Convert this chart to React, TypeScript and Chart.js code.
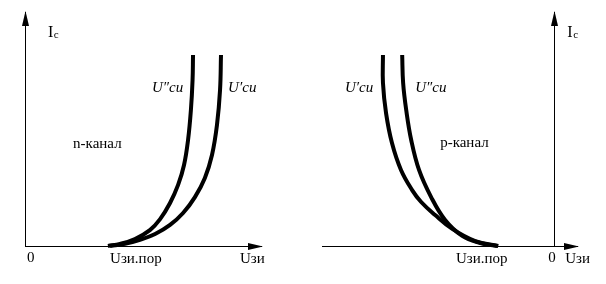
import React, { useEffect, useRef } from "react";
import { Chart, registerables } from "chart.js";

Chart.register(...registerables);

// ---- n-channel (left panel): U_ЗИ (x) vs I_С (y), arbitrary units ----
const nCurve2X = [3.5, 4.01, 4.64, 5.27, 5.7, 6.12, 6.46, 6.71, 6.88, 7.0, 7.07, 7.09];
const nCurve2Y = [0, 0.09, 0.3, 0.68, 1.15, 1.84, 2.61, 3.46, 4.53, 5.81, 7.09, 8.16];
const nCurve1X = [3.59, 4.22, 4.85, 5.49, 6.12, 6.67, 7.17, 7.59, 7.89, 8.1, 8.23, 8.27];
const nCurve1Y = [0, 0.09, 0.26, 0.51, 0.9, 1.41, 2.09, 2.91, 3.89, 5.17, 6.67, 8.16];

// ---- p-channel (right panel) ----
const pCurve1X = [-7.22, -7.22, -7.09, -6.84, -6.46, -5.99, -5.61, -5.02, -4.3, -3.33, -2.36];
const pCurve1Y = [8.16, 6.97, 5.68, 4.4, 3.25, 2.39, 1.88, 1.32, 0.73, 0.21, 0];
const pCurve2X = [-6.41, -6.37, -6.24, -6.03, -5.7, -5.19, -4.6, -3.88, -3.12, -2.41];
const pCurve2Y = [8.16, 6.97, 5.81, 4.53, 3.25, 2.09, 1.11, 0.43, 0.13, 0];

// axis ranges
const nXRange = [0, 10];
const pXRange = [-10, 1];
const yRange = [0, 10];
const nXAxisSpan = [0, 10];
const pXAxisSpan = [-9.79, 1];

// text labels
const nLabels = [
  { text: "I", sub: "с", x: 0.97, y: 8.93 },
  { text: "0", x: 0.08, y: -0.68 },
  { text: "Uзи.пор", x: 3.59, y: -0.73 },
  { text: "Uзи", x: 9.07, y: -0.73 },
  { text: "n-канал", x: 2.03, y: 4.19 },
  { text: "U″си", x: 5.36, y: 6.58, italic: true },
  { text: "U′си", x: 8.57, y: 6.58, italic: true },
];
const pLabels = [
  { text: "I", sub: "с", x: 0.55, y: 8.93 },
  { text: "0", x: -0.25, y: -0.68 },
  { text: "Uзи", x: 0.46, y: -0.73 },
  { text: "Uзи.пор", x: -4.14, y: -0.73 },
  { text: "U′си", x: -8.82, y: 6.58, italic: true },
  { text: "U″си", x: -5.86, y: 6.58, italic: true },
  { text: "p-канал", x: -4.81, y: 4.23 },
];

const FONT = '"Liberation Serif", "Times New Roman", serif';

type Label = { text: string; sub?: string; x: number; y: number; italic?: boolean };

function zip(xs: number[], ys: number[]) {
  return xs.map((x, i) => ({ x, y: ys[i] }));
}

function decorPlugin(axisSpan: number[], labels: Label[]) {
  return {
    id: "decor",
    afterDatasetsDraw(chart: any) {
      const { ctx } = chart;
      const xs = chart.scales.x;
      const ys = chart.scales.y;
      ctx.save();
      ctx.fillStyle = "#000";
      const oy = Math.round(ys.getPixelForValue(0));
      const ox = Math.round(xs.getPixelForValue(0));
      const xa = Math.round(xs.getPixelForValue(axisSpan[0]));
      const xb = Math.round(xs.getPixelForValue(axisSpan[1]));
      const yt = Math.round(ys.getPixelForValue(yRange[1]));
      // axis lines
      ctx.fillRect(xa, oy, xb - xa, 1);
      ctx.fillRect(ox, yt, 1, oy - yt + 1);
      // arrowheads
      ctx.beginPath();
      ctx.moveTo(xb + 1, oy + 0.5);
      ctx.lineTo(xb - 14, oy + 0.5 - 3.5);
      ctx.lineTo(xb - 14, oy + 0.5 + 3.5);
      ctx.closePath();
      ctx.fill();
      ctx.beginPath();
      ctx.moveTo(ox + 0.5, yt - 1);
      ctx.lineTo(ox + 0.5 - 3.5, yt + 14);
      ctx.lineTo(ox + 0.5 + 3.5, yt + 14);
      ctx.closePath();
      ctx.fill();
      // labels
      ctx.textBaseline = "alphabetic";
      ctx.textAlign = "left";
      for (const l of labels) {
        const px = xs.getPixelForValue(l.x);
        const py = ys.getPixelForValue(l.y);
        ctx.font = (l.italic ? "italic " : "") + (l.sub ? "16px " : "15px ") + FONT;
        ctx.fillText(l.text, px, py);
        if (l.sub) {
          const w = ctx.measureText(l.text).width;
          ctx.font = "11px " + FONT;
          ctx.fillText(l.sub, px + w + 0.5, py + 0.5);
        }
      }
      ctx.restore();
    },
  };
}

function Panel(props: {
  series: { x: number[]; y: number[] }[];
  xRange: number[];
  axisSpan: number[];
  labels: Label[];
  padding: { left: number; right: number; top: number; bottom: number };
}) {
  const ref = useRef<HTMLCanvasElement | null>(null);
  useEffect(() => {
    if (!ref.current) return;
    const chart = new Chart(ref.current, {
      type: "line",
      data: {
        datasets: props.series.map((s) => ({
          data: zip(s.x, s.y),
          borderColor: "#000",
          borderWidth: 4,
          pointRadius: 0,
          tension: 0.4,
          fill: false,
          clip: false as any,
        })),
      },
      options: {
        animation: false,
        responsive: false,
        events: [],
        layout: { padding: props.padding },
        plugins: { legend: { display: false }, tooltip: { enabled: false } },
        scales: {
          x: { type: "linear", min: props.xRange[0], max: props.xRange[1], display: false },
          y: { type: "linear", min: yRange[0], max: yRange[1], display: false },
        },
      },
      plugins: [decorPlugin(props.axisSpan, props.labels)],
    } as any);
    return () => chart.destroy();
  }, []);
  return <canvas ref={ref} width={303} height={284} style={{ display: "block" }} />;
}

export default function App() {
  return (
    <div
      style={{
        position: "absolute",
        left: 0,
        top: 0,
        width: 606,
        height: 284,
        background: "#fff",
        display: "flex",
      }}
    >
      <Panel
        series={[
          { x: nCurve2X, y: nCurve2Y },
          { x: nCurve1X, y: nCurve1Y },
        ]}
        xRange={nXRange}
        axisSpan={nXAxisSpan}
        labels={nLabels}
        padding={{ left: 25, right: 41, top: 12, bottom: 38 }}
      />
      <Panel
        series={[
          { x: pCurve1X, y: pCurve1Y },
          { x: pCurve2X, y: pCurve2Y },
        ]}
        xRange={pXRange}
        axisSpan={pXAxisSpan}
        labels={pLabels}
        padding={{ left: 14, right: 28, top: 12, bottom: 38 }}
      />
    </div>
  );
}
